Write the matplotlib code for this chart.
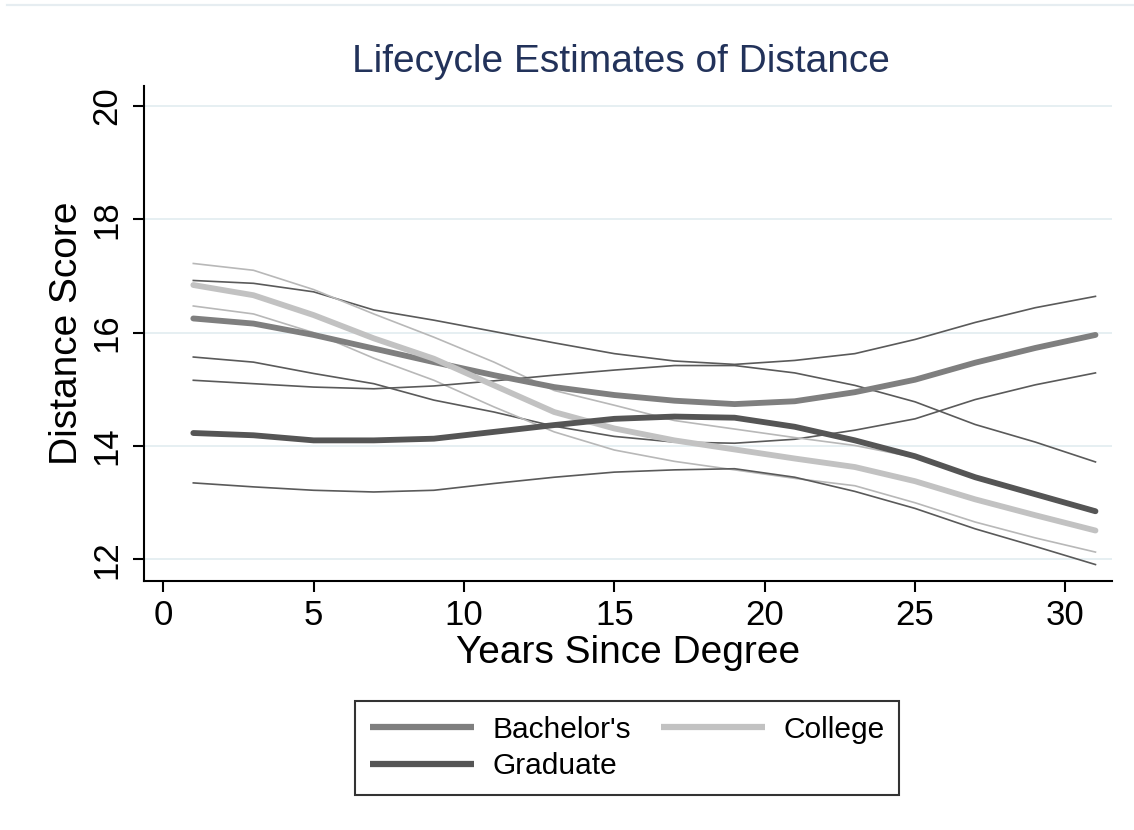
import numpy as np
import matplotlib
matplotlib.use("Agg")
import matplotlib.pyplot as plt
from matplotlib.lines import Line2D

plt.rcParams['font.family'] = ['Liberation Sans', 'DejaVu Sans']

# fitted lifecycle curves with 95% bands, every other year
years = [1, 3, 5, 7, 9, 11, 13, 15, 17, 19, 21, 23, 25, 27, 29, 31]

bach = [16.25, 16.16, 15.96, 15.72, 15.48, 15.25, 15.04, 14.90, 14.80, 14.74, 14.79, 14.95, 15.17, 15.47, 15.73, 15.96]
bach_hi = [16.92, 16.87, 16.72, 16.40, 16.22, 16.02, 15.82, 15.63, 15.50, 15.44, 15.51, 15.63, 15.88, 16.18, 16.44, 16.64]
bach_lo = [15.57, 15.48, 15.28, 15.10, 14.81, 14.60, 14.35, 14.17, 14.07, 14.05, 14.12, 14.28, 14.48, 14.82, 15.08, 15.29]

college = [16.84, 16.66, 16.31, 15.90, 15.54, 15.07, 14.60, 14.31, 14.10, 13.94, 13.78, 13.63, 13.38, 13.06, 12.78, 12.51]
college_hi = [17.22, 17.10, 16.76, 16.33, 15.92, 15.48, 14.98, 14.72, 14.45, 14.30, 14.15, 14.01, 13.80, 13.45, 13.16, 12.88]
college_lo = [16.47, 16.33, 16.00, 15.55, 15.16, 14.69, 14.25, 13.93, 13.73, 13.58, 13.43, 13.30, 13.00, 12.66, 12.38, 12.13]

grad = [14.23, 14.19, 14.10, 14.10, 14.13, 14.25, 14.37, 14.48, 14.52, 14.50, 14.34, 14.10, 13.82, 13.45, 13.15, 12.85]
grad_hi = [15.16, 15.10, 15.04, 15.01, 15.06, 15.15, 15.25, 15.34, 15.42, 15.42, 15.29, 15.07, 14.78, 14.38, 14.07, 13.72]
grad_lo = [13.35, 13.28, 13.22, 13.19, 13.22, 13.34, 13.45, 13.54, 13.58, 13.60, 13.45, 13.20, 12.90, 12.54, 12.23, 11.91]

xticks = [0, 5, 10, 15, 20, 25, 30]
yticks = [12, 14, 16, 18, 20]

c_bach = '#7f7f7f'
c_coll = '#c2c2c2'
c_grad = '#555555'
c_ci_dark = '#5a5a5a'
c_ci_light = '#b8b8b8'

fig = plt.figure(figsize=(11.34, 8.30), dpi=100)
ax = fig.add_axes([144 / 1134, 1 - 581 / 830, (1112 - 144) / 1134, (581 - 86) / 830])

for v in yticks:
    ax.axhline(v, color='#e6eff2', lw=1.4, zorder=0)

# confidence bands
ax.plot(years, bach_hi, color=c_ci_dark, lw=1.2)
ax.plot(years, bach_lo, color=c_ci_dark, lw=1.2)
ax.plot(years, college_hi, color=c_ci_light, lw=1.2)
ax.plot(years, college_lo, color=c_ci_light, lw=1.2)
ax.plot(years, grad_hi, color=c_ci_dark, lw=1.2)
ax.plot(years, grad_lo, color=c_ci_dark, lw=1.2)

# fitted curves
l_bach, = ax.plot(years, bach, color=c_bach, lw=4.2, solid_capstyle='round', label="Bachelor's")
l_coll, = ax.plot(years, college, color=c_coll, lw=4.2, solid_capstyle='round', label='College')
l_grad, = ax.plot(years, grad, color=c_grad, lw=4.2, solid_capstyle='round', label='Graduate')

ax.set_xlim(-0.64, 31.55)
ax.set_ylim(11.62, 20.35)
ax.set_xticks(xticks)
ax.set_yticks(yticks)
ax.set_yticklabels([str(t) for t in yticks], rotation=90, va='center')

for s in ['top', 'right']:
    ax.spines[s].set_visible(False)
for s in ['left', 'bottom']:
    ax.spines[s].set_linewidth(1.5)
    ax.spines[s].set_color('black')

ax.tick_params(axis='both', direction='out', length=8, width=1.5, labelsize=25, colors='black')
ax.tick_params(axis='x', pad=5)
ax.tick_params(axis='y', pad=7)

ax.set_xlabel('Years Since Degree', fontsize=28, labelpad=2)
ax.set_ylabel('Distance Score', fontsize=28, labelpad=4)

fig.text(0.548, 1 - 72 / 830, 'Lifecycle Estimates of Distance', fontsize=28,
         color='#22325a', ha='center', va='baseline')

# faint outer border along the top
fig.add_artist(Line2D([7 / 1134, 1.0], [1 - 5 / 830, 1 - 5 / 830],
                      transform=fig.transFigure, color='#e6edf1', lw=1.6))

leg = fig.legend(handles=[l_bach, l_grad, l_coll], ncol=2, loc='center',
                 bbox_to_anchor=(627 / 1134, 1 - 748 / 830), bbox_transform=fig.transFigure,
                 fontsize=21.5, frameon=True, fancybox=False, handlelength=3.5,
                 handletextpad=0.6, columnspacing=1.0, labelspacing=0.3,
                 borderpad=0.5)
leg.get_frame().set_edgecolor('black')
leg.get_frame().set_linewidth(1.5)
for h in leg.legend_handles:
    h.set_linewidth(4.5)
    h.set_solid_capstyle('butt')

fig.savefig('out.png', dpi=100, facecolor='white')
